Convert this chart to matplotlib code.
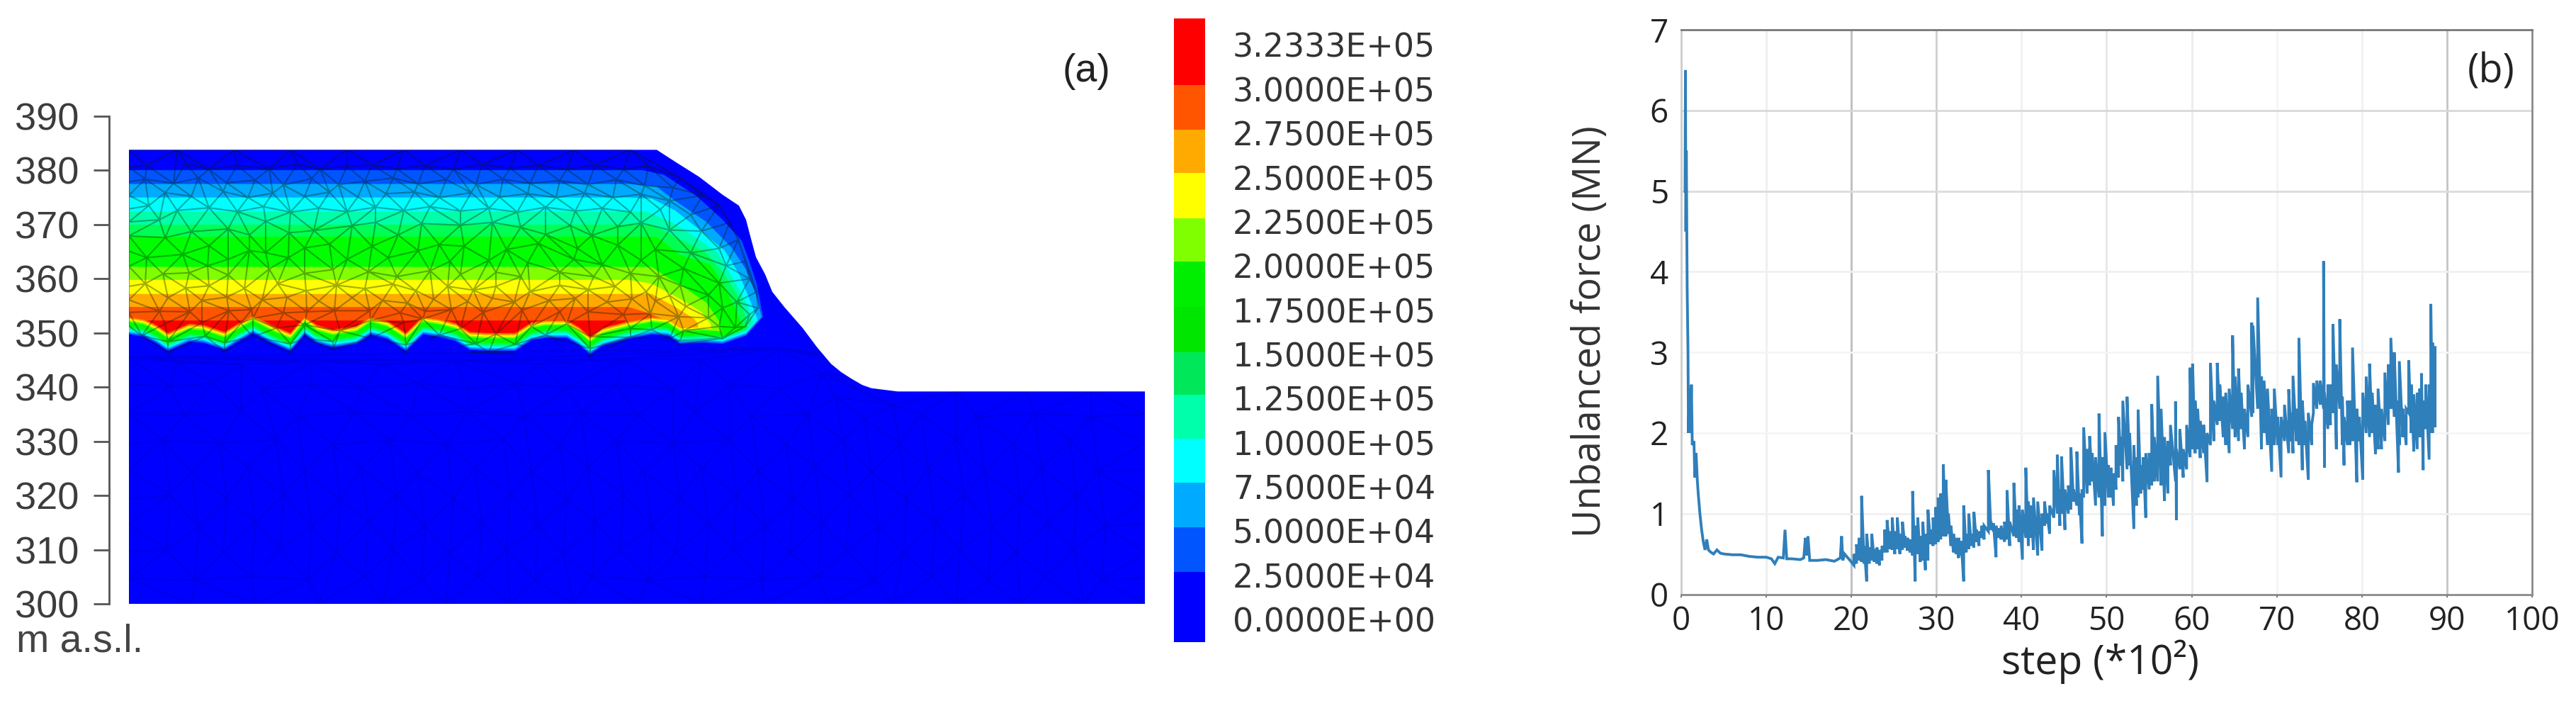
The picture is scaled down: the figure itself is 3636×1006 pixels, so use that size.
#!/bin/env python
'''
Stress contours on the slope mesh (a) and unbalanced force history (b).
'''
import numpy as np
import matplotlib
matplotlib.use('Agg')
import matplotlib.pyplot as plt
from matplotlib.patches import Polygon
from matplotlib.tri import Triangulation

W, H = 3637, 1006
PX_PER_M = 7.644  # vertical scale of panel (a), the mesh is meant to be seen undistorted

# (a) elevation ticks and slope outline: chainage (image px), elevation (m a.s.l.)
elev_ticks = [300, 310, 320, 330, 340, 350, 360, 370, 380, 390]
surface_x = [182, 927, 953, 987, 1020, 1043, 1053, 1060, 1067, 1080, 1090, 1107, 1133, 1153, 1173, 1187, 1200, 1217, 1230, 1267, 1616, 1616, 182]
surface_z = [383.8, 383.8, 381.6, 378.8, 375.5, 373.5, 370.9, 367.4, 364.0, 360.8, 357.6, 354.8, 350.9, 347.4, 344.3, 342.8, 341.7, 340.4, 339.8, 339.2, 339.2, 300, 300]

# lower limit of the stressed zone
wave_x = [182, 203, 220, 237, 267, 287, 317, 333, 357, 383, 410, 430, 447, 470, 503, 523, 547, 573, 597,
          620, 643, 663, 690, 727, 750, 770, 800, 817, 833, 850, 887, 920, 943, 960, 993, 1020, 1053, 1077]
wave_z = [349.75, 349.3, 348.2, 346.7, 348.4, 348.2, 346.9, 348.2, 350.0, 348.2, 346.7, 349.75, 348.2, 347.35,
          348.0, 349.75, 348.9, 346.7, 349.75, 349.3, 348.5, 346.9, 346.7, 346.7, 348.65, 349.1, 349.1, 347.8,
          346.05, 347.6, 348.9, 349.75, 349.5, 348.0, 348.2, 348.0, 349.5, 353.0]

# contour bands, one colour, upper limit and rise above the wave for each
band_colors = ['#0055ff', '#00aaff', '#00ffff', '#00ffaa', '#00ff55', '#00ff00',
               '#80ff00', '#ffff00', '#ffaa00', '#ff5500', '#ff0000']
band_rise = [0.0, 0.25, 0.5, 0.8, 1.1, 1.4, 2.3, 2.6, 2.85, 3.1, 3.3]
band_top_x = [
    [182, 907, 937, 983, 1020, 1047, 1057, 1068, 1077, 1085],
    [182, 887, 927, 953, 997, 1033, 1053, 1067, 1075, 1085],
    [182, 887, 920, 953, 987, 1023, 1043, 1060, 1068, 1080],
    [182, 913, 947, 980, 1013, 1033, 1053, 1062, 1075],
    [182, 920, 953, 997, 1020, 1043, 1053, 1065],
    [182, 927, 960, 1003, 1020, 1037, 1047, 1060],
    [182, 920, 940, 963, 997, 1015, 1025],
    [182, 887, 920, 957, 990, 1003, 1012],
    [182, 920, 953, 980, 985, 990],
    [182, 887, 910, 953, 960],
    [182, 883, 884, 886],
]
band_top_z = [
    [380.05, 380.05, 379.2, 375.3, 370.9, 367.0, 363.5, 359.1, 353.0, 345],
    [377.5, 377.5, 377.0, 374.4, 370.5, 365.7, 361.7, 357.0, 353.0, 345],
    [375.0, 375.0, 374.8, 372.6, 369.1, 365.2, 360.9, 355.6, 353.0, 345],
    [372.4, 372.4, 370.5, 367.8, 364.8, 360.4, 355.6, 352.6, 345],
    [370.0, 370.0, 367.8, 364.8, 361.3, 356.5, 352.6, 345],
    [367.8, 367.8, 364.4, 362.6, 359.1, 354.8, 351.7, 345],
    [362.2, 362.2, 360.4, 358.7, 355.6, 352.2, 345],
    [359.8, 359.8, 359.1, 356.5, 353.9, 351.7, 345],
    [357.2, 357.2, 354.8, 352.6, 351.7, 345],
    [354.8, 354.8, 353.9, 351.7, 345],
    [352.3, 352.3, 351.5, 345],
]

# mesh nodes, (chainage, elevation)
upper_nodes = [
    (182, 383.8), (250, 383.8), (330, 383.8), (410, 383.8), (490, 383.8), (570, 383.8), (650, 383.8), (730, 383.8), (810, 383.8), (890, 383.8),
    (182, 380.6), (207, 380.9), (262, 381.3), (295, 380.2), (335, 380.9), (380, 380.3), (420, 381.2), (452, 380.2), (490, 380.8), (525, 381.0),
    (560, 380.3), (600, 380.9), (640, 380.2), (680, 381.1), (720, 380.4), (760, 380.9), (800, 380.2), (840, 381.0), (880, 380.2), (915, 380.8), (960, 378.6),
    (182, 377.9), (205, 378.4), (245, 377.6), (280, 378.6), (320, 377.7), (360, 378.2), (400, 377.3), (440, 378.5), (478, 377.4), (515, 378.0),
    (555, 378.6), (590, 377.5), (630, 378.3), (672, 377.4), (710, 378.4), (748, 377.6), (790, 378.1), (830, 377.4), (870, 378.3), (910, 377.2), (950, 376.8), (992, 375.4),
    (182, 375.4), (233, 375.9), (270, 375.2), (315, 376.1), (350, 375.0), (385, 375.8), (430, 375.2), (465, 376.0), (505, 375.1), (545, 375.7),
    (585, 376.0), (620, 375.0), (665, 375.9), (705, 375.1), (745, 375.7), (785, 375.0), (825, 375.8), (865, 375.0), (905, 375.6), (945, 374.4), (1015, 373.6),
    (182, 372.9), (210, 373.5), (250, 372.6), (295, 373.1), (335, 372.4), (372, 373.3), (410, 372.3), (450, 373.0), (490, 372.4), (530, 373.2),
    (570, 372.6), (607, 373.3), (650, 372.5), (690, 373.0), (730, 372.3), (770, 373.2), (812, 372.5), (850, 373.0), (890, 372.3), (932, 372.8), (975, 371.8), (1030, 370.4),
    (182, 370.5), (225, 370.9), (270, 368.7), (322, 369.2), (352, 368.1), (375, 370.6), (408, 368.5), (443, 368.9), (497, 369.8), (530, 370.4),
    (562, 368.1), (595, 370.2), (620, 366.3), (650, 369.9), (695, 370.4), (735, 369.5), (770, 368.2), (805, 369.8), (835, 368.0), (872, 369.6), (905, 370.3), (945, 369.0), (990, 368.8), (1042, 367.2),
    (182, 367.9), (233, 367.6), (295, 366.1), (352, 365.2), (430, 365.7), (465, 366.4), (525, 366.0), (590, 365.2), (655, 366.0), (715, 365.4),
    (760, 366.5), (815, 365.6), (872, 366.2), (925, 365.4), (975, 364.8), (1015, 365.6), (1052, 363.2),
    (182, 365.1), (207, 363.9), (258, 364.5), (322, 363.6), (407, 363.9), (375, 364.8), (490, 363.6), (548, 363.9), (635, 363.2), (690, 363.4),
    (745, 363.0), (810, 363.6), (850, 362.6), (905, 363.4), (965, 361.9), (1025, 362.4), (1058, 360.0),
    (182, 362.3), (230, 360.9), (267, 361.1), (293, 362.4), (322, 360.7), (380, 361.8), (430, 361.0), (470, 361.7), (520, 361.3), (560, 360.4),
    (607, 361.5), (650, 360.8), (700, 361.2), (735, 360.4), (790, 361.2), (838, 360.4), (890, 361.0), (930, 360.4), (960, 358.8), (1015, 359.2), (1068, 357.6),
    (182, 358.6), (205, 359.1), (262, 358.3), (295, 358.7), (345, 358.2), (392, 359.1), (432, 357.8), (475, 358.8), (515, 358.2), (555, 359.0),
    (587, 357.8), (632, 358.6), (668, 357.9), (700, 358.6), (748, 357.6), (790, 358.8), (830, 358.0), (868, 358.6), (912, 357.6), (945, 356.9), (1000, 357.0), (1040, 355.7), (1070, 354.6),
    (182, 356.1), (237, 356.5), (285, 356.0), (320, 356.6), (370, 356.1), (405, 356.6), (450, 355.9), (497, 356.5), (540, 356.0), (575, 355.5),
    (612, 356.2), (660, 355.8), (695, 356.4), (726, 355.7), (775, 356.0), (812, 356.4), (857, 355.7), (892, 356.3), (925, 355.9), (968, 354.9), (1020, 354.6), (1058, 353.4),
    (182, 353.8), (225, 354.0), (268, 353.9), (323, 354.1), (355, 354.3), (400, 353.7), (433, 353.9), (472, 354.1), (522, 354.1), (565, 353.7),
    (600, 354.0), (637, 354.3), (682, 353.8), (737, 354.2), (790, 353.9), (830, 353.9), (880, 353.4), (918, 353.6), (958, 353.0), (1000, 352.8), (1052, 351.2),
    (182, 351.3), (233, 351.7), (285, 351.9), (340, 351.8), (357, 352.7), (390, 350.9), (430, 351.5), (480, 350.4), (523, 352.3), (570, 351.9),
    (597, 352.6), (650, 350.8), (700, 349.8), (750, 351.2), (800, 351.7), (833, 349.3), (890, 350.8), (920, 350.6), (965, 350.4), (1015, 351.2), (1038, 351.0),
    (200, 349.5), (237, 348.4), (290, 349.4), (317, 348.2), (357, 349.3), (410, 348.0), (430, 349.0), (470, 348.4), (523, 349.0), (573, 347.8),
    (620, 349.6), (672, 348.0), (727, 347.9), (770, 349.6), (833, 347.1), (890, 349.2), (960, 348.6), (1020, 349.0),
    (237, 346.4), (317, 346.6), (410, 346.3), (470, 347.0), (573, 346.4), (690, 346.4), (833, 345.7), (945, 348.9),
]
lower_nodes = [
    (182, 345.5), (250, 344.6), (340, 344.2), (440, 344.8), (540, 344.2), (640, 344.9), (760, 344.3), (880, 345.2), (990, 345.0), (1100, 347.2), (1160, 342.6),
    (182, 340.6), (240, 340.1), (300, 340.8), (370, 339.6), (440, 340.5), (510, 339.8), (590, 340.7), (660, 339.7), (730, 340.6), (800, 339.8), (870, 340.4), (950, 339.6), (1030, 340.4), (1100, 339.8), (1180, 338.2), (1260, 336.7), (1350, 339.2), (1450, 339.2), (1540, 339.2), (1616, 339.2),
    (182, 335.2), (260, 334.8), (340, 335.6), (420, 334.6), (500, 335.4), (580, 334.7), (660, 335.5), (740, 334.6), (820, 335.3), (900, 334.8), (980, 335.4), (1060, 334.6), (1140, 335.0), (1220, 334.2), (1300, 335.0), (1380, 334.5), (1460, 335.2), (1540, 334.6), (1616, 335.0),
    (182, 329.4), (230, 330.2), (310, 329.6), (390, 330.3), (470, 329.4), (550, 330.2), (630, 329.5), (710, 330.4), (790, 329.4), (870, 330.1), (950, 329.6), (1030, 330.3), (1110, 329.4), (1190, 330.2), (1270, 329.5), (1350, 330.2), (1430, 329.6), (1510, 330.3), (1616, 329.7),
    (182, 324.8), (270, 324.3), (350, 325.2), (430, 324.4), (510, 325.0), (590, 324.2), (670, 325.1), (750, 324.4), (830, 325.2), (910, 324.3), (990, 325.0), (1070, 324.4), (1150, 325.2), (1230, 324.3), (1310, 325.0), (1390, 324.3), (1470, 325.0), (1550, 324.4), (1616, 324.8),
    (182, 319.3), (240, 320.1), (320, 319.5), (400, 320.2), (480, 319.3), (560, 320.0), (640, 319.4), (720, 320.2), (800, 319.3), (880, 320.1), (960, 319.4), (1040, 320.2), (1120, 319.3), (1200, 320.0), (1280, 319.4), (1360, 320.1), (1440, 319.3), (1520, 320.0), (1616, 319.5),
    (182, 314.7), (280, 314.2), (360, 315.0), (440, 314.3), (520, 315.1), (600, 314.2), (680, 315.0), (760, 314.3), (840, 315.1), (920, 314.2), (1000, 315.0), (1080, 314.3), (1160, 315.0), (1240, 314.2), (1320, 315.0), (1400, 314.3), (1480, 315.0), (1560, 314.3), (1616, 314.8),
    (182, 309.6), (235, 310.0), (315, 309.4), (395, 310.1), (475, 309.3), (555, 310.0), (635, 309.4), (715, 310.1), (795, 309.3), (875, 310.0), (955, 309.4), (1035, 310.1), (1115, 309.4), (1195, 310.0), (1275, 309.3), (1355, 310.0), (1435, 309.4), (1515, 310.0), (1616, 309.5),
    (182, 304.6), (275, 304.4), (355, 305.0), (435, 304.4), (515, 305.0), (595, 304.3), (675, 305.0), (755, 304.4), (835, 305.0), (915, 304.3), (995, 305.0), (1075, 304.4), (1155, 305.0), (1235, 304.3), (1315, 305.0), (1395, 304.4), (1475, 305.0), (1555, 304.4), (1616, 304.7),
    (182, 300), (270, 300), (360, 300), (450, 300), (540, 300), (630, 300), (720, 300), (810, 300), (900, 300), (990, 300), (1080, 300), (1170, 300), (1260, 300), (1350, 300), (1440, 300), (1530, 300), (1616, 300),
]

# (a) colour legend
legend_labels = ['0.0000E+00', '2.5000E+04', '5.0000E+04', '7.5000E+04', '1.0000E+05', '1.2500E+05', '1.5000E+05',
                 '1.7500E+05', '2.0000E+05', '2.2500E+05', '2.5000E+05', '2.7500E+05', '3.0000E+05', '3.2333E+05']
legend_colors = ['#0000ff', '#0055ff', '#00aaff', '#00ffff', '#00ffaa', '#00e85a', '#00e600',
                 '#00ee00', '#80ff00', '#ffff00', '#ffaa00', '#ff5500', '#ff0000']
legend_edges = [-0.51, 1.08, 2.09, 3.10, 4.09, 5.09, 6.05, 7.08, 8.10, 9.08, 10.10, 11.08, 12.09, 13.60]

# (b) unbalanced force history, first the initial decay and the quiet stretch
decay_steps = [0.45, 0.5, 0.55, 0.6, 0.7, 0.8, 0.85, 1.0, 1.1, 1.2, 1.3, 1.5, 1.6, 1.75, 1.9, 2.0, 2.2, 2.4, 2.6, 2.8, 3.0, 3.2, 3.5, 3.8, 4.2,
               4.6, 5, 6, 7, 8, 9, 10, 10.6, 11, 11.4, 12, 12.2, 12.4, 13, 14, 14.4, 14.6, 14.7, 14.9, 15.1, 16, 17, 18, 18.7, 18.85, 19, 19.2, 20]
decay_force = [5.0, 6.5, 4.5, 5.5, 3.8, 3.0, 2.0, 2.55, 2.0, 2.6, 1.85, 1.9, 1.45, 1.75, 1.4, 1.25, 1.0, 0.8, 0.65, 0.55, 0.68, 0.55, 0.52, 0.5, 0.55,
               0.51, 0.5, 0.49, 0.49, 0.47, 0.46, 0.46, 0.44, 0.38, 0.46, 0.45, 0.8, 0.44, 0.44, 0.43, 0.45, 0.7, 0.48, 0.72, 0.42, 0.42, 0.43, 0.41, 0.45, 0.72, 0.42, 0.5, 0.4]

# then the noisy part, (step, low, high)
noise_20s = [(20.3, .36, .5), (20.6, .38, .62), (20.9, .42, .7), (21.2, .4, 1.22), (21.5, .38, .6), (21.8, .16, .75), (22.1, .38, .58), (22.4, .42, .75),
             (22.7, .4, .56), (23, .38, .58), (23.3, .36, .55), (23.6, .42, .6), (23.9, .52, .8), (24.2, .52, .92), (24.5, .56, .78), (24.8, .55, .95),
             (25.1, .5, .78), (25.4, .56, .95), (25.7, .5, .75), (26, .55, .9), (26.3, .58, .72), (26.6, .54, .7), (26.9, .52, .68), (27.2, .48, 1.28),
             (27.5, .16, .85), (27.8, .5, .95), (28.1, .4, .72), (28.4, .42, .9), (28.7, .3, .75), (29, .42, 1.05), (29.3, .62, .8), (29.6, .6, .95), (29.9, .62, 1.08)]
noise_30s = [(30.2, .65, 1.2), (30.5, .68, 1.25), (30.8, .72, 1.61), (31.1, .72, 1.42), (31.4, .75, 1.0), (31.7, .6, .85), (32, .52, .75), (32.3, .5, .7),
             (32.6, .45, .7), (32.9, .48, .66), (33.2, .16, 1.1), (33.5, .52, .75), (33.8, .56, 1.0), (34.1, .6, .75), (34.4, .58, 1.02), (34.7, .65, .8),
             (35, .6, .78), (35.3, .7, .85), (35.6, .68, .85), (36.1, .78, 1.54), (36.4, .8, .9), (36.7, .78, .88), (37, .46, .85), (37.3, .7, .82),
             (37.6, .68, .85), (38, .65, .9), (38.3, .68, 1.29), (38.6, .6, .9), (39.1, .72, 1.38), (39.4, .7, 1.05), (39.7, .65, 1.1)]
noise_40s = [(40.1, .43, 1.05), (40.5, .7, 1.57), (40.8, .6, 1.15), (41.1, .7, 1.1), (41.4, .55, 1.2), (41.9, .48, 1.15), (42.4, .54, 1.0), (42.7, .85, 1.15),
             (43, .88, 1.0), (43.3, .75, 1.1), (43.8, .95, 1.54), (44.2, 1.0, 1.73), (44.5, .85, 1.3), (44.7, 1.0, 1.71), (45.1, .8, 1.3), (45.5, 1.0, 1.35),
             (45.8, 1.05, 1.82), (46.1, 1.15, 1.3), (46.5, 1.1, 1.77), (46.8, .98, 1.25), (47.1, .63, 1.3), (47.3, 1.2, 2.07), (47.7, 1.25, 1.8), (48, 1.35, 1.96),
             (48.3, 1.4, 1.75), (48.7, 1.1, 1.7), (49.1, 1.2, 2.24), (49.5, .72, 1.7), (49.8, 1.1, 2.01)]
noise_50s = [(50.2, 1.2, 1.6), (50.5, 1.2, 1.57), (50.8, 1.1, 1.5), (51.1, 1.3, 1.85), (51.4, 1.45, 2.2), (51.7, 1.6, 1.95), (51.9, 1.4, 2.4), (52.4, 1.55, 2.45),
             (52.7, 1.6, 2.0), (53.2, .81, 1.85), (53.5, 1.1, 1.7), (53.7, 1.2, 2.29), (54, 1.25, 1.6), (54.3, 1.3, 1.7), (54.6, .95, 1.75), (55, 1.3, 1.75),
             (55.3, 1.35, 2.36), (55.6, 1.4, 1.95), (56, 1.4, 2.71), (56.4, 1.35, 2.3), (56.8, 1.16, 1.95), (57.2, 1.25, 1.9), (57.5, 1.6, 2.1), (58.1, 1.4, 2.39),
             (58.2, .92, 1.8), (58.6, 1.55, 2.05), (59, 1.45, 1.8), (59.4, 1.55, 2.1), (59.8, 1.7, 2.81)]
noise_60s = [(60.1, 1.8, 2.86), (60.4, 1.75, 2.4), (60.7, 1.8, 2.3), (61, 1.69, 2.15), (61.4, 1.75, 2.1), (61.8, 1.39, 2.0), (62.2, 1.85, 2.87), (62.6, 1.9, 2.4),
             (63, 2.1, 2.87), (63.3, 2.15, 2.6), (63.7, 1.95, 2.45), (64, 1.85, 2.5), (64.4, 1.75, 2.55), (64.8, 2.05, 3.21), (65.1, 1.95, 2.7), (65.5, 1.9, 2.8),
             (65.8, 2.05, 2.5), (66.2, 1.8, 2.3), (66.6, 1.95, 2.6), (67.05, 2.2, 3.37), (67.2, 2.25, 3.33), (67.75, 2.3, 3.68), (68.2, 1.8, 2.7), (68.5, 2.0, 2.65),
             (68.9, 1.85, 2.55), (69.4, 1.52, 2.3), (69.7, 1.85, 2.55)]
noise_70s = [(70.1, 1.85, 2.2), (70.5, 1.45, 2.2), (70.9, 1.9, 2.35), (71.4, 1.75, 2.54), (71.7, 1.9, 2.25), (71.9, 1.75, 2.71), (72.3, 1.9, 2.3), (72.6, 1.85, 3.18),
             (73, 1.54, 2.4), (73.3, 1.85, 2.15), (73.7, 1.42, 2.25), (74.1, 1.85, 2.1), (74.3, 2.25, 2.62), (74.7, 2.3, 2.65), (75.1, 2.35, 2.65), (75.5, 2.3, 4.13),
             (75.6, 1.57, 2.5), (76, 2.05, 2.6), (76.3, 2.1, 2.6), (76.6, 2.25, 3.35), (77, 1.8, 2.85), (77.4, 2.3, 3.41), (77.7, 1.85, 2.45), (77.9, 1.6, 2.2),
             (78.3, 1.85, 2.4), (78.6, 1.85, 2.4), (78.9, 1.9, 3.06), (79.4, 1.39, 2.3), (79.7, 1.9, 2.2)]
noise_80s = [(80.1, 1.42, 2.5), (80.5, 2.0, 2.7), (80.9, 1.95, 2.86), (81.2, 2.0, 2.5), (81.6, 1.74, 2.35), (81.9, 1.8, 2.55), (82.3, 1.8, 2.3), (82.7, 1.9, 2.75),
             (83.1, 2.1, 2.85), (83.4, 2.3, 3.18), (83.8, 2.2, 3.0), (84.3, 1.51, 2.4), (84.4, 1.85, 2.89), (84.8, 1.95, 2.3), (85.2, 1.85, 2.3), (85.5, 2.25, 2.9),
             (85.8, 2.0, 2.6), (86.1, 1.77, 2.48), (86.5, 1.8, 2.5), (86.8, 1.95, 2.55), (87, 2.05, 2.74), (87.2, 1.54, 2.4), (87.5, 2.05, 2.6), (87.9, 1.67, 2.6),
             (88.1, 2.0, 3.6), (88.3, 2.0, 3.12), (88.6, 2.07, 3.06)]

step_ticks = [0, 10, 20, 30, 40, 50, 60, 70, 80, 90, 100]
force_ticks = [0, 1, 2, 3, 4, 5, 6, 7]
# the grid is not even in the picture, some lines are stronger than others
step_grid = {10: '#efefef', 20: '#bdbdbd', 30: '#cfcfcf', 40: '#f0f0f0', 50: '#e6e6e6', 60: '#ececec', 70: '#f4f4f4', 80: '#f0f0f0', 90: '#c4c4c4'}
force_grid = {1: '#f0f0f0', 2: '#f5f5f5', 3: '#f5f5f5', 4: '#f0f0f0', 5: '#dcdcdc', 6: '#d8d8d8'}


def px_axes(fig, x0, y0, x1, y1):
    # axes from image pixel corners (y counted from the top)
    return fig.add_axes([x0 / W, 1 - y1 / H, (x1 - x0) / W, (y1 - y0) / H])


def mesh(nodes):
    # Delaunay in picture proportions, then drawn in elevation units
    xy = np.array(nodes, dtype=float)
    tris = Triangulation(xy[:, 0], xy[:, 1] * PX_PER_M).triangles
    return Triangulation(xy[:, 0], xy[:, 1], tris)


fig = plt.figure(figsize=(W / 100, H / 100), dpi=100, facecolor='white')

# ---- panel (a) ----
ax = px_axes(fig, 154, 164, 1616, 852)
ax.set_xlim(154, 1616)
ax.set_ylim(300, 390)
for side in ['top', 'right', 'bottom']:
    ax.spines[side].set_visible(False)
ax.spines['left'].set_color('#555555')
ax.spines['left'].set_linewidth(2.0)
ax.set_xticks([])
ax.set_yticks(elev_ticks)
ax.tick_params(axis='y', length=16, width=2.0, color='#555555', pad=15, labelcolor='#3c3c3c')
for lab in ax.get_yticklabels():
    lab.set_family('Liberation Sans')
    lab.set_fontsize(39)

body = Polygon(np.column_stack([surface_x, surface_z]), closed=True, facecolor='#0000ff', edgecolor='none', clip_on=False)
ax.add_patch(body)

wave_x = np.array(wave_x, dtype=float)
wave_z = np.array(wave_z)
for color, rise, top_x, top_z in zip(band_colors, band_rise, band_top_x, band_top_z):
    # band = below its upper limit and above the (raised) wave
    above = np.column_stack([np.r_[wave_x, 1100, 1100, 182], np.r_[wave_z + rise, 385, 390, 390]])
    below = np.column_stack([np.r_[top_x, top_x[-1], 182], np.r_[top_z, 300, 300]])
    band = Polygon(above, closed=True, facecolor=color, edgecolor='none')
    ax.add_patch(band)
    band.set_clip_path(Polygon(below, closed=True, transform=ax.transData))

for line in ax.triplot(mesh(lower_nodes), color='#000060', lw=1.3, alpha=0.16, marker=''):
    line.set_clip_path(body)
# upper mesh stops at the wave, below it only the faint one shows
upper_clip = Polygon(np.column_stack([np.r_[wave_x, surface_x[8], surface_x[:8][::-1]],
                                      np.r_[wave_z - 0.6, surface_z[8], surface_z[:8][::-1]]]),
                     closed=True, transform=ax.transData)
for line in ax.triplot(mesh(upper_nodes), color='#002000', lw=1.5, alpha=0.36, marker=''):
    line.set_clip_path(upper_clip)

fig.text(23 / W, 1 - 920 / H, 'm a.s.l.', family='Liberation Sans', fontsize=40, color='#444444', va='baseline')
fig.text(1533 / W, 1 - 101 / H, '(a)', family='Liberation Sans', fontsize=40, color='#222222', ha='center', va='center')

# colour legend
ax_cb = px_axes(fig, 1657, 26, 1701, 906)
ax_cb.set_xlim(0, 1)
ax_cb.set_ylim(legend_edges[0], legend_edges[-1])
for i, color in enumerate(legend_colors):
    ax_cb.bar(0.5, legend_edges[i + 1] - legend_edges[i], bottom=legend_edges[i], width=1, color=color)
for side in ax_cb.spines:
    ax_cb.spines[side].set_visible(False)
ax_cb.set_xticks([])
ax_cb.yaxis.tick_right()
ax_cb.set_yticks(range(len(legend_labels)))
ax_cb.set_yticklabels(legend_labels, family='DejaVu Sans', fontsize=33, color='#333333')
ax_cb.tick_params(axis='y', length=0, pad=28)

# ---- panel (b) ----
ax2 = px_axes(fig, 2373, 42, 3574, 838.5)
ax2.set_xlim(0, 100)
ax2.set_ylim(0, 7)
for x, color in step_grid.items():
    ax2.axvline(x, color=color, lw=2.0, zorder=1)
for y, color in force_grid.items():
    ax2.axhline(y, color=color, lw=2.0, zorder=1)

noise = np.array(noise_20s + noise_30s + noise_40s + noise_50s + noise_60s + noise_70s + noise_80s)
steps = np.r_[decay_steps, np.repeat(noise[:, 0], 2)]
force = np.r_[decay_force, noise[:, 1:].ravel()]
ax2.plot(steps, force, color='#2f7fbb', lw=2.8, solid_joinstyle='miter', zorder=3)

ax2.spines['top'].set_color('#777777')
ax2.spines['right'].set_color('#8a8a8a')
ax2.spines['bottom'].set_color('#8a8a8a')
ax2.spines['left'].set_color('#cccccc')
for side in ax2.spines:
    ax2.spines[side].set_linewidth(2.0)
ax2.set_xticks(step_ticks)
ax2.set_yticks(force_ticks)
ax2.tick_params(axis='x', length=3, width=1.5, color='#777777', pad=8, labelsize=33, labelcolor='#222222')
ax2.tick_params(axis='y', length=0, pad=13, labelsize=33, labelcolor='#222222')
for lab in ax2.get_xticklabels() + ax2.get_yticklabels():
    lab.set_family('Open Sans')

fig.text(2245 / W, 1 - 468 / H, 'Unbalanced force (MN)', family='Open Sans', fontsize=39, color='#333333',
         rotation=90, ha='center', va='center')
fig.text(2965 / W, 1 - 934 / H, 'step (*10²)', family='Open Sans', fontsize=41, color='#222222', ha='center', va='center')
fig.text(3516 / W, 1 - 102 / H, '(b)', family='Open Sans', fontsize=40, color='#222222', ha='center', va='center')

fig.savefig('out.png', dpi=100)
